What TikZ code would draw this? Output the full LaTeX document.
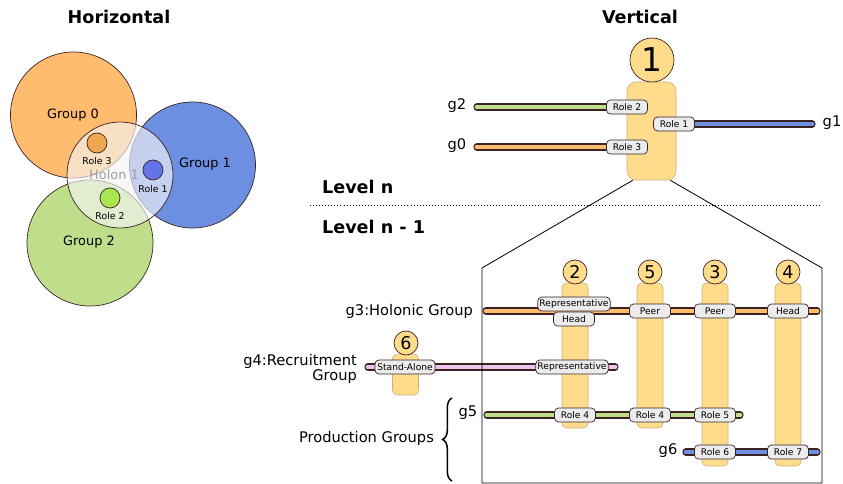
\documentclass[tikz,border=0pt]{standalone}
\usepackage{fontspec}
\setmainfont{DejaVu Sans}
\usetikzlibrary{positioning,decorations.pathreplacing}
\definecolor{outline}{RGB}{60,35,35}
\definecolor{grouporange}{RGB}{255,187,110}
\definecolor{groupblue}{RGB}{108,143,226}
\definecolor{groupgreen}{RGB}{190,222,140}
\definecolor{grouppink}{RGB}{235,195,235}
\definecolor{holonyellow}{RGB}{255,220,140}
\definecolor{holonedge}{RGB}{205,175,115}
\definecolor{roleorange}{RGB}{240,168,80}
\definecolor{roleblue}{RGB}{100,115,230}
\definecolor{rolegreen}{RGB}{170,230,80}
\tikzset{
	groupcircle/.style={draw=outline, line width=0.6pt},
	rolecircle/.style={circle, draw=outline, line width=0.6pt, minimum size=0.6cm, inner sep=0pt},
	holonbody/.style={rectangle, rounded corners=4pt, fill=holonyellow, draw=holonedge, line width=0.5pt, minimum width=0.78cm, inner sep=0pt},
	holonhead/.style={circle, fill=holonyellow, draw=outline, line width=0.6pt, minimum size=0.72cm, inner sep=0pt, font=\fontsize{15}{15}\selectfont},
	rolelabel/.style={rectangle, rounded corners=3.5pt, fill=gray!15, draw=outline, line width=0.6pt, font=\fontsize{7.8}{8}\selectfont, minimum width=35pt, minimum height=12pt, inner xsep=3.5pt, inner ysep=1pt},
	groupbar/.style={line cap=round, draw=outline, line width=1pt, double distance=4.2pt, double=#1},
	grouptag/.style={font=\fontsize{12.5}{13}\selectfont},
	smalltag/.style={font=\fontsize{8}{9}\selectfont},
	bigtag/.style={font=\fontsize{11}{12}\selectfont},
	titletext/.style={font=\bfseries\fontsize{15}{18}\selectfont},
}

\begin{document}
\begin{tikzpicture}[x=0.03cm, y=-0.03cm]
	\useasboundingbox (0,0) rectangle (843,484);

	\node[titletext] (horizontal) at (119,17) {Horizontal};
	\node[titletext] (vertical) at (640,17) {Vertical};

	\draw[groupcircle, fill=grouporange] (73.5,115) circle[radius=1.89cm];
	\draw[groupcircle, fill=groupblue] (192.5,165) circle[radius=1.89cm];
	\draw[groupcircle, fill=groupgreen] (90,243) circle[radius=1.89cm];
	\draw[groupcircle, fill=gray!8, fill opacity=0.65] (120,175) circle[radius=1.59cm];
	\node[bigtag] (group0) at (73,115) {Group 0};
	\node[bigtag] (group1) at (205,164) {Group 1};
	\node[bigtag] (group2) at (89,242) {Group 2};
	\node[bigtag, text=gray!75] (holon1) at (114,175) {Holon 1};
	\node[rolecircle, fill=roleorange] (role3) at (97,143) {};
	\node[rolecircle, fill=roleblue] (role1) at (153,170) {};
	\node[rolecircle, fill=rolegreen] (role2) at (110,198) {};
	\node[smalltag] (role3tag) at (97,161) {Role 3};
	\node[smalltag] (role1tag) at (153,189) {Role 1};
	\node[smalltag] (role2tag) at (110,216) {Role 2};

	\node[holonbody, rounded corners=7.5pt, minimum width=1.47cm, minimum height=2.94cm] (h1body) at (651.5,131) {};
	\node[holonhead, minimum size=1.32cm, font=\fontsize{28}{28}\selectfont] (h1head) at (652,60) {1};

	\coordinate (boxtl) at (482,268);
	\coordinate (boxtr) at (822,268);
	\coordinate (boxbl) at (482,483);
	\coordinate (boxbr) at (822,483);

	\coordinate (g2end) at (477,107);
	\coordinate (g0end) at (477,147);
	\coordinate (g1end) at (812,124);
	\draw[groupbar=groupgreen] (g2end) -- (627,107);
	\draw[groupbar=grouporange] (g0end) -- (627,147);
	\draw[groupbar=groupblue] (674,124) -- (g1end);
	\node[rolelabel] (t2) at (627,107) {Role 2};
	\node[rolelabel] (t3) at (627,147) {Role 3};
	\node[rolelabel] (t1) at (674,124) {Role 1};
	\node[grouptag] (g2) at (457,106) {g2};
	\node[grouptag] (g0) at (457,146) {g0};
	\node[grouptag] (g1) at (832,123) {g1};

	\node[titletext, anchor=west] (leveln) at (318,187) {Level n};
	\node[titletext, anchor=west] (levelm) at (318,227) {Level n - 1};
	\coordinate (sepl) at (310,205);
	\coordinate (sepr) at (820,205);
	\draw[dotted, line width=0.6pt] (sepl) -- (sepr);

	\node[holonbody, minimum height=4.35cm] (h2body) at (575,355.5) {};
	\node[holonbody, minimum height=4.35cm] (h5body) at (650,355.5) {};
	\node[holonbody, minimum height=5.49cm] (h3body) at (715,374.5) {};
	\node[holonbody, minimum height=5.49cm] (h4body) at (788,374.5) {};
	\node[holonbody, minimum height=1.23cm] (h6body) at (405.5,374.5) {};
	\node[holonhead] (h2head) at (575,272) {2};
	\node[holonhead] (h5head) at (650,272) {5};
	\node[holonhead] (h3head) at (715,272) {3};
	\node[holonhead] (h4head) at (788,272) {4};
	\node[holonhead] (h6head) at (406,343) {6};

	\coordinate (g3l) at (486,311);
	\coordinate (g3r) at (817,311);
	\coordinate (g4l) at (368,367);
	\coordinate (g4r) at (615,367);
	\coordinate (g5l) at (487,415);
	\coordinate (g5r) at (740,415);
	\coordinate (g6l) at (686,452);
	\coordinate (g6r) at (817,452);
	\draw[groupbar=grouporange] (g3l) -- (g3r);
	\draw[groupbar=grouppink] (g4l) -- (g4r);
	\draw[groupbar=groupgreen] (g5l) -- (g5r);
	\draw[groupbar=groupblue] (g6l) -- (g6r);

	\node[rolelabel, inner xsep=1.5pt] (h2rep) at (574,304) {Representative};
	\node[rolelabel] (h2head3) at (574,319) {Head};
	\node[rolelabel] (h5peer) at (650,311) {Peer};
	\node[rolelabel] (h3peer) at (715,311) {Peer};
	\node[rolelabel] (h4head3) at (788,311) {Head};
	\node[rolelabel, inner xsep=2pt] (h6alone) at (405,367) {Stand-Alone};
	\node[rolelabel, inner xsep=1.5pt] (h2rep4) at (572,367) {Representative};
	\node[rolelabel] (h2role4) at (575,415) {Role 4};
	\node[rolelabel] (h5role4) at (650,415) {Role 4};
	\node[rolelabel] (h3role5) at (715,415) {Role 5};
	\node[rolelabel] (h3role6) at (715,452) {Role 6};
	\node[rolelabel] (h4role7) at (788,452) {Role 7};

	\node[grouptag, anchor=east] (g3) at (477,311) {g3:Holonic Group};
	\node[grouptag, anchor=east, align=right] (g4) at (361,369) {g4:Recruitment\\Group};
	\node[grouptag] (g5) at (468,413) {g5};
	\node[grouptag] (g6) at (668,451) {g6};
	\node[grouptag, anchor=east] (production) at (438,438) {Production Groups};

	\coordinate (bracebot) at (452,481);
	\coordinate (bracetop) at (452,398);
	\draw[decorate, decoration={brace, amplitude=8pt}, line width=1.3pt] (bracebot) -- (bracetop);

	\draw[line width=0.7pt] ([xshift=0.18cm]h1body.south west) -- (boxtl) -- (boxbl) -- (boxbr) -- (boxtr) -- ([xshift=-0.18cm]h1body.south east);
\end{tikzpicture}
\end{document}
